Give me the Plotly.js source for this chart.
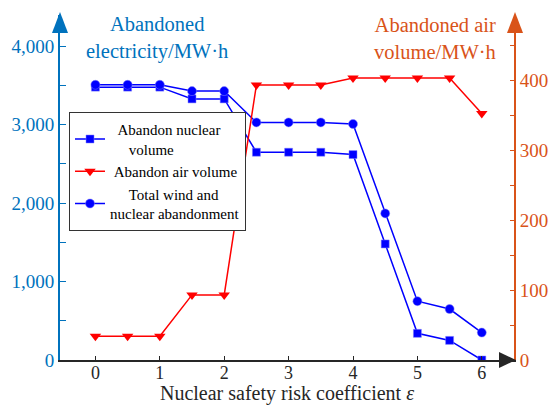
<!DOCTYPE html>
<html>
<head>
<meta charset="utf-8">
<script src="https://cdn.plot.ly/plotly-3.0.1.min.js"></script>
<style>html,body{margin:0;padding:0;background:#fff;}#chart{width:553px;height:405px;}</style>
</head>
<body>
<div id="chart"></div>
<script>
// Data
const riskCoef = [0, 0.5, 1, 1.5, 2, 2.5, 3, 3.5, 4, 4.5, 5, 5.5, 6];
const nuclearAbandon = [3480, 3480, 3480, 3330, 3330, 2650, 2650, 2650, 2620, 1480, 340, 250, 0];
const airAbandon = [34, 34, 34, 93, 93, 393, 393, 393, 403, 403, 403, 403, 352];
const totalAbandon = [3510, 3510, 3510, 3430, 3430, 3030, 3030, 3030, 3010, 1870, 750, 650, 350];
const leftTicks = [0, 1000, 2000, 3000, 4000];
const rightTicks = [0, 100, 200, 300, 400];
const xTicks = [0, 1, 2, 3, 4, 5, 6];

const W = 553, H = 405;
const L = 60, R = 514, T = 15, B = 360;
const px = x => (x - L) / (R - L);
const py = y => (B - y) / (B - T);
const tri = (pts) => 'M ' + pts.map(p => px(p[0]) + ' ' + py(p[1])).join(' L ') + ' Z';

const blue = '#0000FF', red = '#FF0000';
const leftCol = '#0072BD', rightCol = '#D95319';
const font = 'Liberation Serif';

const nb = '\u00A0';
const traces = [
  {x: riskCoef, y: nuclearAbandon, name: nb.repeat(2) + 'Abandon nuclear<br>' + nb.repeat(5) + 'volume', mode: 'lines+markers',
   line: {color: blue, width: 1.5}, marker: {symbol: 'square', size: 8, color: blue, line:{color:'#8080ff', width:0.5}}},
  {x: riskCoef, y: airAbandon, name: nb + 'Abandon air volume', mode: 'lines+markers', yaxis: 'y2',
   line: {color: red, width: 1.5}, marker: {symbol: 'triangle-down', size: 10, color: red}},
  {x: riskCoef, y: totalAbandon, name: nb.repeat(5) + 'Total wind and<br>nuclear abandonment', mode: 'lines+markers',
   line: {color: blue, width: 1.5}, marker: {symbol: 'circle', size: 9, color: blue, line:{color:'#8080ff', width:0.5}}}
];

const layout = {
  width: W, height: H,
  margin: {l: L, r: W - R, t: T, b: H - B},
  paper_bgcolor: '#fff', plot_bgcolor: '#fff',
  font: {family: font, size: 17, color: '#262626'},
  showlegend: true,
  legend: {x: px(69), y: py(112), xanchor: 'left', yanchor: 'top', bgcolor: '#fff',
    bordercolor: '#333', borderwidth: 1, font: {family: font, size: 15, color: '#000'},
    itemwidth: 30, tracegroupgap: 0},
  xaxis: {range: [-0.55, 6.5], tickvals: xTicks, ticktext: xTicks.map(String), ticks: 'inside', ticklen: 4,
    tickcolor: '#262626', showline: true, linecolor: '#262626', linewidth: 1.5, showgrid: false, zeroline: false,
    ticklabelstandoff: -4,
    tickfont: {family: font, size: 18, color: '#262626'},
    title: {text: 'Nuclear safety risk coefficient <i>ε</i>', font: {family: font, size: 20, color: '#262626'}, standoff: 0}},
  yaxis: {range: [0, 4400], tickvals: leftTicks, ticktext: leftTicks.map(v => v.toLocaleString('en-US')),
    ticks: 'inside', ticklen: 6, tickcolor: leftCol, showline: true, linecolor: leftCol, linewidth: 2,
    showgrid: false, zeroline: false, tickfont: {family: font, size: 19, color: leftCol},
    minor: {dtick: 500, tick0: 0, ticks: 'inside', ticklen: 6, tickcolor: leftCol}},
  yaxis2: {range: [0, 492.9], overlaying: 'y', side: 'right', tickvals: rightTicks, ticktext: rightTicks.map(String),
    ticks: 'inside', ticklen: 4, tickcolor: rightCol, showline: true, linecolor: rightCol, linewidth: 2,
    showgrid: false, zeroline: false, tickfont: {family: font, size: 19, color: rightCol},
    minor: {dtick: 50, tick0: 0, ticks: 'inside', ticklen: 4, tickcolor: rightCol}},
  shapes: [
    {type: 'path', xref: 'paper', yref: 'paper', path: tri([[60, 12], [52, 33], [68, 33]]), fillcolor: leftCol, line: {width: 0}},
    {type: 'path', xref: 'paper', yref: 'paper', path: tri([[515, 12], [507, 33], [523, 33]]), fillcolor: rightCol, line: {width: 0}},
    {type: 'path', xref: 'paper', yref: 'paper', path: tri([[516, 360], [499, 352], [499, 368]]), fillcolor: '#262626', line: {width: 0}}
  ],
  annotations: [
    {xref: 'paper', yref: 'paper', x: px(157), y: py(38), xanchor: 'center', yanchor: 'middle', showarrow: false,
     text: 'Abandoned<br>electricity/MW·h', font: {family: font, size: 20.5, color: leftCol}, align: 'center'},
    {xref: 'paper', yref: 'paper', x: px(498), y: py(38), xanchor: 'right', yanchor: 'middle', showarrow: false,
     text: 'Abandoned air<br>volume/MW·h', font: {family: font, size: 20.5, color: rightCol}, align: 'right'}
  ]
};

Plotly.newPlot('chart', traces, layout, {displayModeBar: false, staticPlot: true});
</script>
</body>
</html>
